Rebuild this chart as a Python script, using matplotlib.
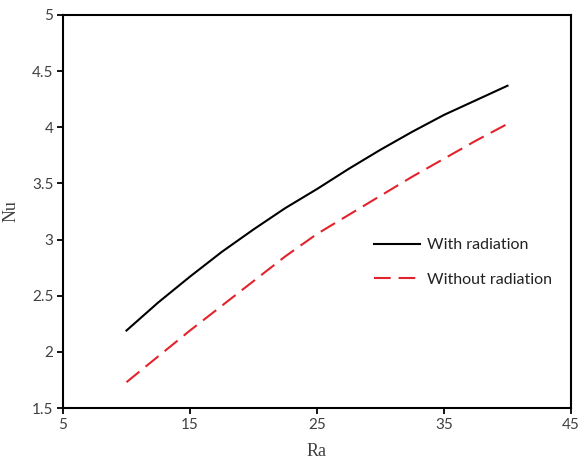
import matplotlib
matplotlib.use('Agg')
import matplotlib.pyplot as plt

# ── Data ──────────────────────────────────────────────────────────────────────
ra = [10, 12.5, 15, 17.5, 20, 22.5, 25, 27.5, 30, 32.5, 35, 37.5, 40]
nu_rad = [2.19, 2.44, 2.67, 2.89, 3.09, 3.28, 3.45, 3.63, 3.80, 3.96, 4.11, 4.24, 4.37]
nu_norad = [1.73, 1.96, 2.19, 2.41, 2.63, 2.85, 3.05, 3.22, 3.39, 3.56, 3.72, 3.88, 4.03]

xticks = [5, 15, 25, 35, 45]
yticks = [1.5, 2, 2.5, 3, 3.5, 4, 4.5, 5]
ytick_labels = ['1.5', '2', '2.5', '3', '3.5', '4', '4.5', '5']

# ── Figure ────────────────────────────────────────────────────────────────────
fig = plt.figure(figsize=(5.8, 4.68), dpi=100, facecolor='white')
ax = fig.add_axes([0.1086, 0.1282, 0.8759, 0.8398])

ax.plot(ra, nu_rad, color='black', linewidth=1.5, label='With radiation')
ax.plot(ra, nu_norad, color='#E3232C', linewidth=1.5, dashes=(8, 3.8),
        label='Without radiation')

ax.set_xlim(5, 45)
ax.set_ylim(1.5, 5)
ax.set_xticks(xticks)
ax.set_xticklabels([str(v) for v in xticks])
ax.set_yticks(yticks)
ax.set_yticklabels(ytick_labels)

for lab in ax.get_xticklabels() + ax.get_yticklabels():
    lab.set_family(['Lato', 'DejaVu Sans'])
    lab.set_fontsize(11)
    lab.set_color('#404040')

ax.tick_params(direction='out', length=4, width=1.3, color='black', pad=3)
for spine in ax.spines.values():
    spine.set_linewidth(1.5)

ax.set_xlabel('Ra', family='Liberation Serif', fontsize=13, color='#404040',
              labelpad=8)
ax.set_ylabel('Nu', family='Liberation Serif', fontsize=13, color='#404040',
              labelpad=9)

leg = ax.legend(loc='upper left', bbox_to_anchor=(0.612, 0.432), frameon=False,
                borderaxespad=0, borderpad=0,
                handlelength=2.9, handletextpad=0.45, labelspacing=1.25,
                prop={'family': ['Lato', 'DejaVu Sans'], 'size': 11.5})
for txt in leg.get_texts():
    txt.set_color('#222222')

fig.savefig('out.png', dpi=100, facecolor='white')
